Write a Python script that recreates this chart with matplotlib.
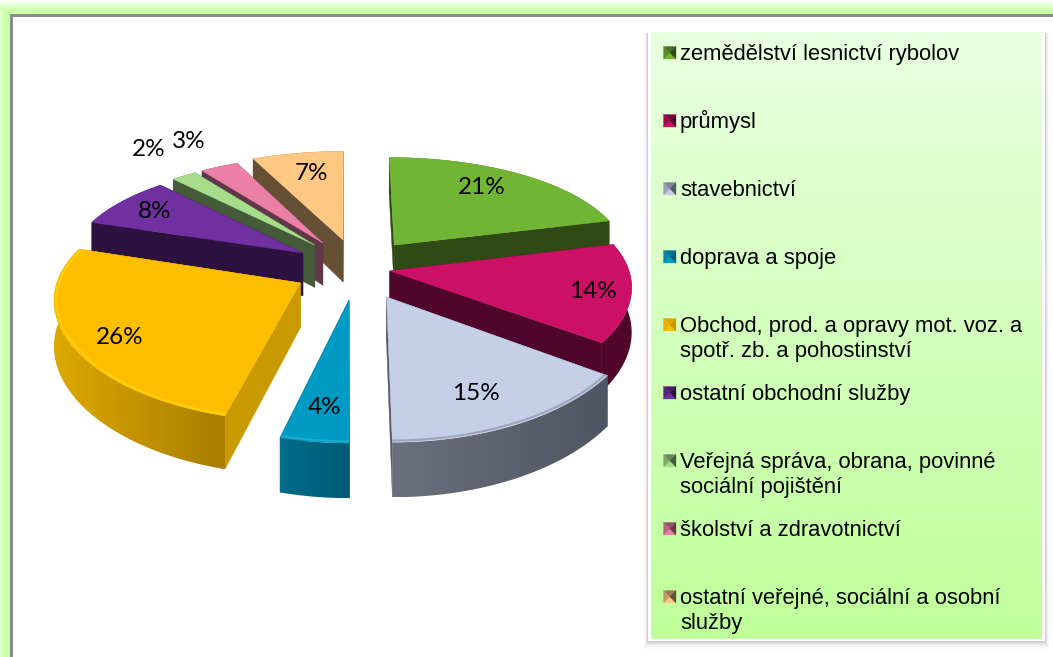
import numpy as np
import matplotlib
matplotlib.use("Agg")
import matplotlib.pyplot as plt
from matplotlib.colors import to_rgb
from matplotlib.patches import Polygon, Rectangle

# ---------- data ----------
categories = ["zemědělství lesnictví rybolov", "průmysl", "stavebnictví", "doprava a spoje",
              "Obchod, prod. a opravy mot. voz. a\nspotř. zb. a pohostinství",
              "ostatní obchodní služby",
              "Veřejná správa, obrana, povinné\nsociální pojištění",
              "školství a zdravotnictví",
              "ostatní veřejné, sociální a osobní\nslužby"]
values = [21, 14, 15, 4, 26, 8, 2, 3, 7]

# ---------- styles ----------
top_colors = ["#70B634", "#CC1065", "#C5CFE8", "#009BC4", "#FDBE00", "#7030A0", "#A6DC8A", "#EC7FA5", "#FFC882"]
side_colors = ["#2F4A12", "#50052A", "#565B68", "#00627F", "#C99A00", "#2D1240", "#455B38", "#603848", "#655035"]
rim_left = ["#2F4A12", "#50052A", "#6C707C", "#006D8A", "#DDA800", "#2D1240", "#455B38", "#603848", "#655035"]
rim_right = ["#2F4A12", "#50052A", "#505563", "#005A75", "#A87E00", "#2D1240", "#455B38", "#603848", "#655035"]
bevel = [None, None, "#8E94A6", "#2AB0D6", "#FFD800", None, None, None, None]
explode_u = [0.201, 0.177, 0.159, 0.008, -0.19, -0.186, -0.137, -0.103, -0.017]
explode_v = [-0.25, -0.009, 0.215, 0.24, 0.096, -0.175, -0.25, -0.27, -0.30]
slice_radius = [0.98, 0.99, 1.0, 0.98, 0.995, 0.98, 0.975, 0.98, 1.01]
paint_order = [8, 7, 6, 5, 0, 1, 4, 2, 3]
label_xy = [(482, 187), (593, 291), (476, 393), (325, 407), (120, 337), (155, 212), (149, 150), (189, 141), (312, 173)]
legend_y = [53, 121, 189, 257, 325, 393, 461, 529, 597]
CX, CY, A, B, KX, KY, DEPTH = 347, 272, 242, 112, 0.125, 0.165, 44

plt.rcParams["font.family"] = ["Liberation Sans", "DejaVu Sans"]
fig = plt.figure(figsize=(10.53, 6.57), dpi=100)
ax = fig.add_axes([0, 0, 1, 1])
ax.set_xlim(0, 1053)
ax.set_ylim(657, 0)
ax.set_autoscale_on(False)
ax.axis("off")


def lerp(c1, c2, t):
    return tuple((1 - t) * a + t * b for a, b in zip(to_rgb(c1), to_rgb(c2)))


def grad(c1, c2, x0, x1, y0, y1, vertical=True, z=1, clip=None):
    n = 64
    ramp = np.array([lerp(c1, c2, t) for t in np.linspace(0, 1, n)])
    img = ramp[:, None, :] if vertical else ramp[None, :, :]
    im = ax.imshow(img, extent=(x0, x1, y1, y0), aspect="auto", zorder=z, interpolation="bilinear")
    if clip is not None:
        im.set_clip_path(clip)
    return im


def project(u, v, depth=0.0):
    sx = 1 / (1 - KX * v)
    sy = 1 / (1 - KY * v)
    return CX + A * u * sx, CY + B * v * sy + depth * DEPTH * sy


# ---------- frame ----------
GLOW = "#CCFFAA"
grad("#FFFFFF", GLOW, 0, 1053, 0, 11)
grad(GLOW, GLOW, 0, 1053, 11, 15)
grad("#E4FFD4", GLOW, 0, 4, 10, 657, vertical=False)
grad(GLOW, GLOW, 4, 10, 10, 657, vertical=False)
ax.add_patch(Rectangle((10, 14), 1043, 643, fc="#8C8C8C", ec="none", zorder=2))
ax.add_patch(Rectangle((13, 17), 1040, 640, fc="white", ec="none", zorder=3))

# ---------- exploded perspective pie ----------
fractions = np.array(values) / sum(values)
edges = np.concatenate([[0], np.cumsum(fractions)]) * 2 * np.pi
z = 10
for i in paint_order:
    th = np.linspace(edges[i], edges[i + 1], 80)
    r = slice_radius[i]
    au, av = explode_u[i], explode_v[i]
    uo, vo = r * np.sin(th) + au, -r * np.cos(th) + av
    tx, ty = project(uo, vo)
    bx, by = project(uo, vo, 1.0)
    ax0, ay0 = project(au, av)
    bx0, by0 = project(au, av, 1.0)
    # radial walls
    for k in (0, -1):
        ax.add_patch(Polygon([(ax0, ay0), (tx[k], ty[k]), (bx[k], by[k]), (bx0, by0)],
                             fc=side_colors[i], ec=side_colors[i], lw=0.3, zorder=z))
    # outer rim, shaded left to right
    rim = Polygon(list(zip(np.r_[tx, bx[::-1]], np.r_[ty, by[::-1]])), fc="none", ec="none", zorder=z)
    ax.add_patch(rim)
    grad(rim_left[i], rim_right[i], min(tx.min(), bx.min()), max(tx.max(), bx.max()),
         min(ty.min(), by.min()), max(ty.max(), by.max()), vertical=False, z=z, clip=rim)
    # top face
    ax.add_patch(Polygon(list(zip(np.r_[ax0, tx], np.r_[ay0, ty])), fc=top_colors[i], ec=top_colors[i],
                         lw=0.3, zorder=z + 1))
    if bevel[i]:
        hx, hy = project(0.99 * r * np.sin(th) + au, -0.99 * r * np.cos(th) + av)
        ax.plot(hx, hy, color=bevel[i], lw=1.5, alpha=0.7, zorder=z + 1, solid_capstyle="butt")
    z += 2

# ---------- data labels ----------
for v, (x, y) in zip(values, label_xy):
    ax.text(x, y, f"{v}%", ha="center", va="center", fontsize=17.5, family=["Lato", "DejaVu Sans"],
            color="black", zorder=40)

# ---------- legend ----------
for off, a in ((8, .025), (6, .03), (4, .05), (2, .09)):
    ax.add_patch(Rectangle((648 - off / 2, 33), 397 + off, 608 + off, fc="black", alpha=a, ec="none", zorder=30))
ax.add_patch(Rectangle((648, 30), 397, 611, fc="white", ec="none", zorder=31))
grad("#E8FFDF", "#BFFF9A", 651, 1042, 32, 639, z=32)

for name, y, top, side in zip(categories, legend_y, top_colors, side_colors):
    x0, x1, y0, y1 = 663.5, 676, y - 6.5, y + 6
    xm, ym = (x0 + x1) / 2, (y0 + y1) / 2
    for pts, col in (([(x0, y0), (x1, y0), (xm, ym)], lerp(side, top, .35)),
                     ([(x0, y1), (x1, y1), (xm, ym)], to_rgb(top)),
                     ([(x0, y0), (x0, y1), (xm, ym)], lerp(side, top, .6)),
                     ([(x1, y0), (x1, y1), (xm, ym)], to_rgb(side))):
        ax.add_patch(Polygon(pts, fc=col, ec=col, lw=0.2, zorder=33))
    for n, line in enumerate(name.split("\n")):
        ax.text(680, y + 7 + n * 25.5, line, ha="left", va="baseline", fontsize=15.8, color="black", zorder=34)

fig.savefig("out.png", dpi=100)
